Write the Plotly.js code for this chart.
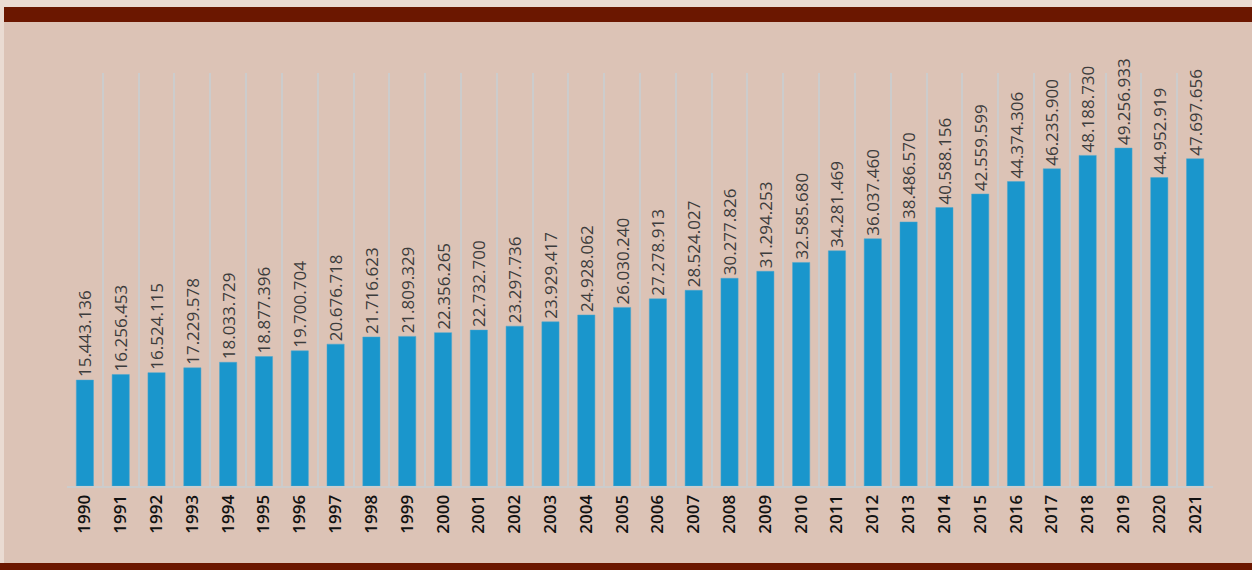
<!DOCTYPE html>
<html><head><meta charset="utf-8">
<script src="https://cdn.plot.ly/plotly-3.0.1.min.js"></script>
<style>
html,body{margin:0;padding:0;width:1252px;height:570px;overflow:hidden;background:#eadbd2;}
#panel{position:absolute;left:4px;top:7px;width:1248px;height:563px;background:#dcc3b6;}
#topbar{position:absolute;left:4px;top:7px;width:1248px;height:15px;background:#6b1700;}
#botbar{position:absolute;left:0;top:563px;width:1252px;height:7px;background:#6b1700;}
#chart{position:absolute;left:0;top:0;width:1252px;height:570px;}
</style></head>
<body>
<div id="panel"></div><div id="topbar"></div><div id="botbar"></div>
<div id="chart"></div>
<script>
const years = ["1990","1991","1992","1993","1994","1995","1996","1997","1998","1999","2000","2001","2002","2003","2004","2005","2006","2007","2008","2009","2010","2011","2012","2013","2014","2015","2016","2017","2018","2019","2020","2021"];
const values = [15443136,16256453,16524115,17229578,18033729,18877396,19700704,20676718,21716623,21809329,22356265,22732700,23297736,23929417,24928062,26030240,27278913,28524027,30277826,31294253,32585680,34281469,36037460,38486570,40588156,42559599,44374306,46235900,48188730,49256933,44952919,47697656];
const labels = ["15.443.136","16.256.453","16.524.115","17.229.578","18.033.729","18.877.396","19.700.704","20.676.718","21.716.623","21.809.329","22.356.265","22.732.700","23.297.736","23.929.417","24.928.062","26.030.240","27.278.913","28.524.027","30.277.826","31.294.253","32.585.680","34.281.469","36.037.460","38.486.570","40.588.156","42.559.599","44.374.306","46.235.900","48.188.730","49.256.933","44.952.919","47.697.656"];

const font = "'Open Sans', sans-serif";
Plotly.newPlot('chart', [{
  type:'bar', x: years, y: values,
  text: labels.map(s => s + '\u00a0\u00a0\u00a0'),
  textposition:'outside', textangle:-90, cliponaxis:false, constraintext:'none',
  textfont:{family:font, size:17, color:'#3c3c3c', stretch:'condensed', weight:400},
  marker:{color:'#1a96cc', line:{color:'#4aa6cf', width:0.5}},
  hoverinfo:'none'
}], {
  width:1252, height:570,
  margin:{l:67, r:39, t:73, b:84},
  paper_bgcolor:'rgba(0,0,0,0)', plot_bgcolor:'rgba(0,0,0,0)',
  bargap:0.52, showlegend:false,
  xaxis:{type:'category', tickson:'boundaries', showgrid:true, gridcolor:'#cccccc', gridwidth:2,
    ticks:'', showline:true, linecolor:'#cccccc', linewidth:2, tickangle:-90,
    tickfont:{family:font, size:17, color:'#111111', stretch:'condensed', weight:600}, fixedrange:true},
  yaxis:{range:[0, 60200000], showgrid:false, zeroline:false, showticklabels:false, ticks:'', fixedrange:true}
}, {staticPlot:true});
</script>
</body></html>
